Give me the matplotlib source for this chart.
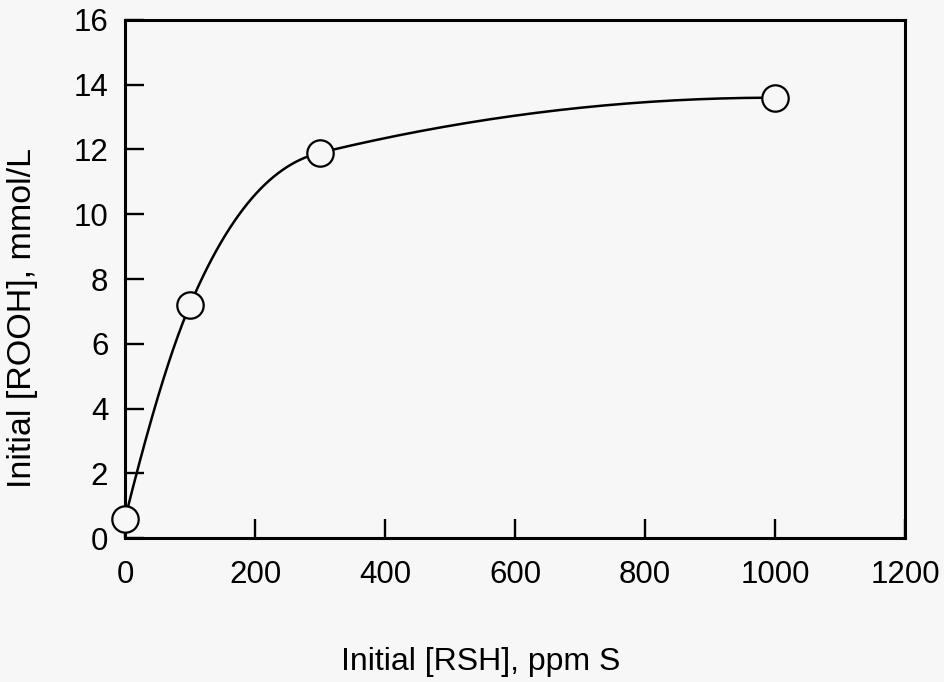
"""
    Initial [ROOH] vs initial [RSH]
"""

import numpy as np
import matplotlib
matplotlib.use("Agg")
import matplotlib.pyplot as plt

# data
rsh_ppm = [0, 100, 300, 1000]
rooh_mmol = [0.6, 7.2, 11.9, 13.6]

x_ticks = [0, 200, 400, 600, 800, 1000, 1200]
y_ticks = [0, 2, 4, 6, 8, 10, 12, 14, 16]

BG = "#f7f7f7"


def steffen(x, y, n=60):
    """
        Monotone cubic (Steffen 1990) through the points, for the smooth line
    """
    x = np.asarray(x, float)
    y = np.asarray(y, float)
    h = np.diff(x)
    d = np.diff(y) / h
    m = np.zeros_like(x)
    for i in range(1, len(x) - 1):
        p = (d[i - 1] * h[i] + d[i] * h[i - 1]) / (h[i - 1] + h[i])
        m[i] = (np.sign(d[i - 1]) + np.sign(d[i])) * min(abs(d[i - 1]), abs(d[i]), 0.5 * abs(p))
    p0 = d[0] * (1 + h[0] / (h[0] + h[1])) - d[1] * h[0] / (h[0] + h[1])
    m[0] = 0 if p0 * d[0] <= 0 else (2 * d[0] if abs(p0) > 2 * abs(d[0]) else p0)
    pn = d[-1] * (1 + h[-1] / (h[-1] + h[-2])) - d[-2] * h[-1] / (h[-1] + h[-2])
    m[-1] = 0 if pn * d[-1] <= 0 else (2 * d[-1] if abs(pn) > 2 * abs(d[-1]) else pn)

    xs, ys = [], []
    for i in range(len(h)):
        t = np.linspace(0, 1, n)
        h00 = 2 * t**3 - 3 * t**2 + 1
        h10 = t**3 - 2 * t**2 + t
        h01 = -2 * t**3 + 3 * t**2
        h11 = t**3 - t**2
        xs.append(x[i] + t * h[i])
        ys.append(h00 * y[i] + h10 * h[i] * m[i] + h01 * y[i + 1] + h11 * h[i] * m[i + 1])
    return np.concatenate(xs), np.concatenate(ys)


plt.rcParams["font.family"] = ["Liberation Sans", "DejaVu Sans"]

fig = plt.figure(figsize=(9.45, 6.82), dpi=100, facecolor=BG)
ax = fig.add_axes([0.1323, 0.2111, 0.8254, 0.7596], facecolor=BG)

cx, cy = steffen(rsh_ppm, rooh_mmol)
ax.plot(cx, cy, color="black", lw=1.8, zorder=2, clip_on=False)
ax.plot(rsh_ppm, rooh_mmol, "o", ms=19, mfc=BG, mec="black", mew=1.6,
        zorder=3, clip_on=False)

ax.set_xlim(0, 1200)
ax.set_ylim(0, 16)
ax.set_xticks(x_ticks)
ax.set_yticks(y_ticks)

for s in ax.spines.values():
    s.set_linewidth(2.2)

ax.tick_params(axis="both", direction="in", top=False, right=False,
               length=13.5, width=1.7, labelsize=22.5)
ax.tick_params(axis="y", pad=12)
ax.tick_params(axis="x", pad=16)

ax.set_xlabel("Initial [RSH], ppm S", fontsize=23, va="top")
ax.set_ylabel("Initial [ROOH], mmol/L", fontsize=24.5)
ax.xaxis.set_label_coords(0.456, -0.21)
ax.yaxis.set_label_coords(-0.112, 0.425)

fig.savefig("out.png", dpi=100, facecolor=BG)
